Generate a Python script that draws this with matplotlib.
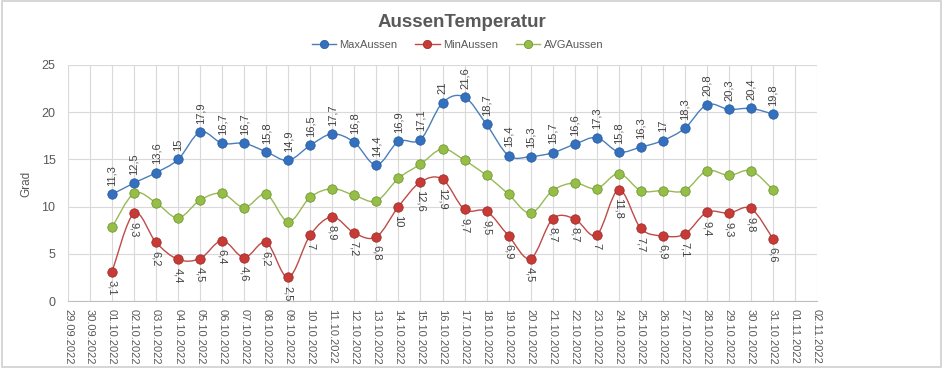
import numpy as np
import pandas as pd
import matplotlib
matplotlib.use('Agg')
import matplotlib.pyplot as plt
import matplotlib.dates as mdates
from matplotlib.path import Path
from matplotlib.patches import PathPatch, Rectangle

# data: 01.10.2022 - 31.10.2022
dates = pd.date_range('2022-10-01', '2022-10-31', freq='D')
max_aussen = [11.3, 12.5, 13.6, 15, 17.9, 16.7, 16.7, 15.8, 14.9, 16.5, 17.7, 16.8, 14.4, 16.9,
              17.1, 21, 21.6, 18.7, 15.4, 15.3, 15.7, 16.6, 17.3, 15.8, 16.3, 17, 18.3, 20.8,
              20.3, 20.4, 19.8]
min_aussen = [3.1, 9.3, 6.2, 4.4, 4.5, 6.4, 4.6, 6.2, 2.5, 7, 8.9, 7.2, 6.8, 10, 12.6, 12.9,
              9.7, 9.5, 6.9, 4.5, 8.7, 8.7, 7, 11.8, 7.7, 6.9, 7.1, 9.4, 9.3, 9.8, 6.6]
avg_aussen = [7.8, 11.4, 10.4, 8.8, 10.7, 11.4, 9.9, 11.3, 8.4, 11.0, 11.9, 11.2, 10.6, 13.0,
              14.5, 16.1, 14.9, 13.3, 11.3, 9.3, 11.7, 12.5, 11.9, 13.5, 11.7, 11.7, 11.7, 13.8,
              13.3, 13.8, 11.8]
tick_dates = pd.date_range('2022-09-29', '2022-11-02', freq='D')

GRAY = '#595959'
plt.rcParams['font.family'] = ['Liberation Sans', 'DejaVu Sans']


def smooth_path(x, y):
    # Excel-style smoothed line: cubic bezier with 1/6 tangent
    x = np.asarray(x, float)
    y = np.asarray(y, float)
    n = len(x)
    verts = [(x[0], y[0])]
    codes = [Path.MOVETO]
    for i in range(n - 1):
        i0 = max(i - 1, 0)
        i2 = min(i + 2, n - 1)
        c1 = (x[i] + (x[i + 1] - x[i0]) / 6, y[i] + (y[i + 1] - y[i0]) / 6)
        c2 = (x[i + 1] - (x[i2] - x[i]) / 6, y[i + 1] - (y[i2] - y[i]) / 6)
        verts += [c1, c2, (x[i + 1], y[i + 1])]
        codes += [Path.CURVE4] * 3
    return Path(verts, codes)


fig = plt.figure(figsize=(9.43, 3.68), dpi=100)
ax = fig.add_axes([0.0721, 0.182, 0.7943, 0.6414])

xnum = mdates.date2num(dates)
series = [
    ('MaxAussen', max_aussen, '#4A7EBB', '#3470BE', '#245A9C'),
    ('MinAussen', min_aussen, '#BE4B48', '#C73A36', '#962824'),
    ('AVGAussen', avg_aussen, '#98B954', '#94BE45', '#6A8C2C'),
]
for name, vals, lc, mc, ec in series:
    ax.add_patch(PathPatch(smooth_path(xnum, vals), facecolor='none', edgecolor=lc, lw=1.0, zorder=3))
    ax.plot(dates, vals, linestyle='none', marker='o', markersize=6.8, markerfacecolor=mc,
            markeredgecolor=ec, markeredgewidth=0.5, zorder=4)
    ax.plot([], [], color=lc, lw=1.0, marker='o', markersize=6, markerfacecolor=mc,
            markeredgecolor=ec, markeredgewidth=0.5, label=name)

for d, v in zip(dates, max_aussen):
    ax.annotate(f'{v:g}'.replace('.', ','), (d, v), xytext=(0, 6), textcoords='offset points',
                rotation=90, ha='center', va='bottom', fontsize=8, color='#404040')
for d, v in zip(dates, min_aussen):
    ax.annotate(f'{v:g}'.replace('.', ','), (d, v), xytext=(0, -6), textcoords='offset points',
                rotation=270, ha='center', va='top', fontsize=8, color='#404040')

ax.set_xlim(tick_dates[0], tick_dates[-1])
ax.set_ylim(0, 25)
ax.set_yticks(np.arange(0, 26, 5))
ax.set_xticks(tick_dates)
ax.set_xticklabels([d.strftime('%d.%m.%Y') for d in tick_dates], rotation=270, fontsize=8, color=GRAY)
ax.tick_params(axis='y', labelsize=9, colors=GRAY, length=0, pad=9)
ax.tick_params(axis='x', length=0, pad=6)
ax.grid(True, color='#D9D9D9', lw=0.8)
ax.set_axisbelow(True)
for s in ['top', 'right', 'left']:
    ax.spines[s].set_visible(False)
ax.spines['bottom'].set_color('#BFBFBF')
fig.text(26 / 943, 0.50, 'Grad', rotation=90, ha='center', va='center', fontsize=8.5, color=GRAY)

fig.suptitle('AussenTemperatur', x=0.49, y=0.94, va='center', fontsize=13.5, fontweight='bold', color=GRAY)
fig.legend(loc='center', bbox_to_anchor=(0.485, 0.877), ncol=3, frameon=False, fontsize=8,
           labelcolor=GRAY, handlelength=2.2, columnspacing=1.6, handletextpad=0.3)

fig.patches.append(Rectangle((0.002, 0.003), 0.996, 0.994, transform=fig.transFigure,
                             fill=False, edgecolor='#D0D0D0', lw=1.2))
fig.savefig('out.png', dpi=100)
